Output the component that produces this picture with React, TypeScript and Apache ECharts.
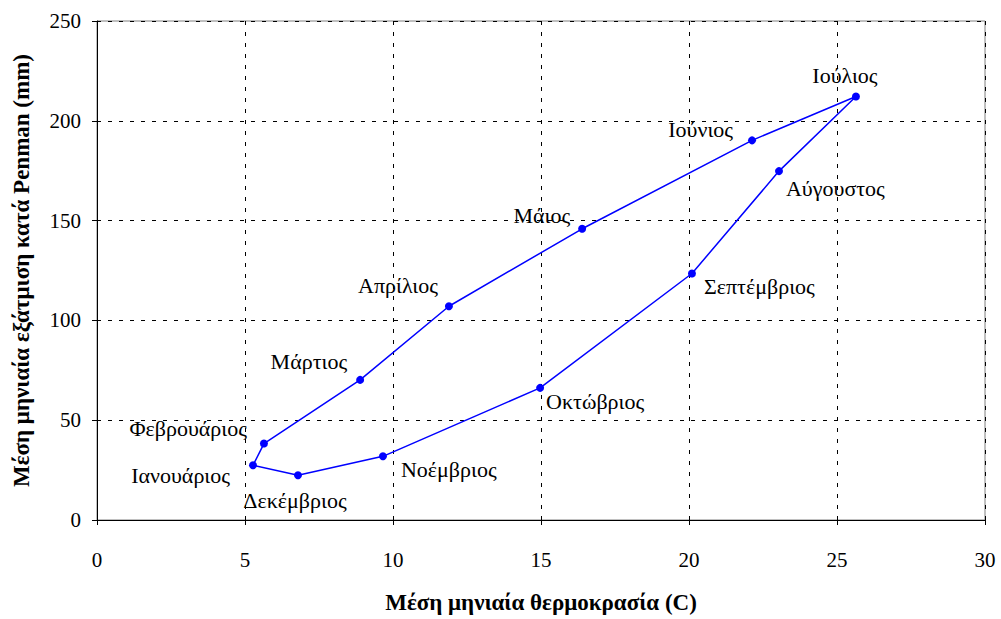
import React, { useEffect, useRef } from "react";
import * as echarts from "echarts";

const months = [
  "Ιανουάριος",
  "Φεβρουάριος",
  "Μάρτιος",
  "Απρίλιος",
  "Μάιος",
  "Ιούνιος",
  "Ιούλιος",
  "Αύγουστος",
  "Σεπτέμβριος",
  "Οκτώβριος",
  "Νοέμβριος",
  "Δεκέμβριος",
];
const temperature = [5.27, 5.64, 8.89, 11.89, 16.39, 22.13, 25.64, 23.04, 20.1, 14.97, 9.66, 6.79];
const evapotranspiration = [27.4, 38.3, 70.2, 107.1, 145.9, 190.2, 212.2, 174.8, 123.5, 66.2, 31.9, 22.4];

const xTicks = { min: 0, max: 30, interval: 5 };
const yTicks = { min: 0, max: 250, interval: 50 };

// label placement (style only)
const labelPlacement: { position: string; distance: number; offset: [number, number] }[] = [
  { position: "left", distance: 19, offset: [0, 10] },
  { position: "left", distance: 13, offset: [0, -15] },
  { position: "left", distance: 9, offset: [0, -18] },
  { position: "left", distance: 7, offset: [0, -21] },
  { position: "left", distance: 8, offset: [0, -13] },
  { position: "left", distance: 15, offset: [0, -11] },
  { position: "top", distance: 6, offset: [-11, 0] },
  { position: "right", distance: 3, offset: [0, 17] },
  { position: "right", distance: 8, offset: [0, 13] },
  { position: "right", distance: 2, offset: [0, 14] },
  { position: "right", distance: 14, offset: [0, 13] },
  { position: "bottom", distance: 10, offset: [-3, 0] },
];

const FONT = "Liberation Serif";

export default function App() {
  const ref = useRef<HTMLDivElement>(null);
  useEffect(() => {
    document.body.style.margin = "0";
    if (!ref.current) return;
    const chart = echarts.init(ref.current, null, { renderer: "svg" });
    const pts: any[] = months.map((m, i) => ({
      value: [temperature[i], evapotranspiration[i]],
      name: m,
      label: {
        show: true,
        formatter: m,
        position: labelPlacement[i].position,
        distance: labelPlacement[i].distance,
        offset: labelPlacement[i].offset,
      },
    }));
    // close the loop back to January
    pts.push({ value: [temperature[0], evapotranspiration[0]], label: { show: false }, symbol: "none" });
    chart.setOption({
      animation: false,
      backgroundColor: "#ffffff",
      textStyle: { fontFamily: FONT },
      grid: {
        left: 97,
        top: 21,
        width: 888,
        height: 501,
        show: true,
        borderColor: "#808080",
        borderWidth: 1,
        backgroundColor: "transparent",
      },
      xAxis: {
        type: "value",
        min: xTicks.min,
        max: xTicks.max,
        interval: xTicks.interval,
        name: "Μέση μηνιαία θερμοκρασία (C)",
        nameLocation: "middle",
        nameGap: 71,
        nameTextStyle: { fontFamily: FONT, fontSize: 23, fontWeight: "bold", color: "#000" },
        axisLine: { show: true, onZero: false, lineStyle: { color: "#000", width: 1 } },
        axisTick: { show: true, length: 5, inside: false, lineStyle: { color: "#000" } },
        axisLabel: { fontFamily: FONT, fontSize: 21, color: "#000", margin: 29 },
        splitLine: { show: true, lineStyle: { color: "#000", type: [4, 7], width: 1 } },
      },
      yAxis: {
        type: "value",
        min: yTicks.min,
        max: yTicks.max,
        interval: yTicks.interval,
        name: "Μέση μηνιαία εξάτμιση κατά Penman (mm)",
        nameLocation: "middle",
        nameGap: 64,
        nameRotate: 90,
        nameTextStyle: { fontFamily: FONT, fontSize: 23, fontWeight: "bold", color: "#000" },
        axisLine: { show: true, onZero: false, lineStyle: { color: "#000", width: 1 } },
        axisTick: { show: true, length: 5, inside: false, lineStyle: { color: "#000" } },
        axisLabel: { fontFamily: FONT, fontSize: 21, color: "#000", margin: 16 },
        splitLine: { show: true, lineStyle: { color: "#000", type: [4, 7], width: 1 } },
      },
      series: [
        {
          type: "line",
          data: pts,
          symbol: "circle",
          symbolSize: 8,
          lineStyle: { color: "#0000FF", width: 1.5 },
          itemStyle: { color: "#0000FF" },
          label: { fontFamily: FONT, fontSize: 22, color: "#000" },
          emphasis: { disabled: true },
        },
      ],
    });
    return () => chart.dispose();
  }, []);
  return <div ref={ref} style={{ width: 1001, height: 619 }} />;
}
